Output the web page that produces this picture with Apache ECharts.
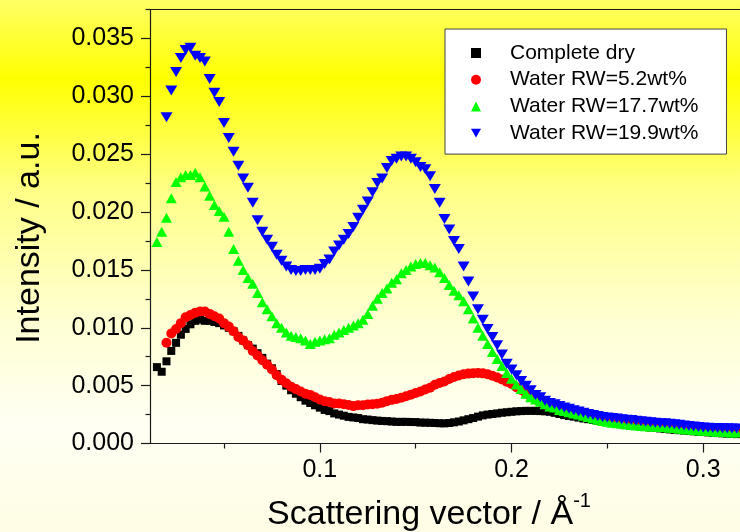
<!DOCTYPE html>
<html><head><meta charset="utf-8">
<script src="https://cdn.jsdelivr.net/npm/echarts@6/dist/echarts.min.js"></script>
<style>html,body{margin:0;padding:0;background:#fff;}#c{width:740px;height:532px;}</style>
</head><body><div id="c"></div>
<script>
// Scattering vector grid (Å^-1)
const q = [
0.0150,0.0175,0.0200,0.0225,0.0250,0.0275,0.0300,0.0325,0.0350,0.0375,
0.0400,0.0425,0.0450,0.0475,0.0500,0.0525,0.0550,0.0575,0.0600,0.0625,
0.0650,0.0675,0.0700,0.0725,0.0750,0.0775,0.0800,0.0825,0.0850,0.0875,
0.0900,0.0925,0.0950,0.0975,0.1000,0.1025,0.1050,0.1075,0.1100,0.1125,
0.1150,0.1175,0.1200,0.1225,0.1250,0.1275,0.1300,0.1325,0.1350,0.1375,
0.1400,0.1425,0.1450,0.1475,0.1500,0.1525,0.1550,0.1575,0.1600,0.1625,
0.1650,0.1675,0.1700,0.1725,0.1750,0.1775,0.1800,0.1825,0.1850,0.1875,
0.1900,0.1925,0.1950,0.1975,0.2000,0.2025,0.2050,0.2075,0.2100,0.2125,
0.2150,0.2175,0.2200,0.2225,0.2250,0.2275,0.2300,0.2325,0.2350,0.2375,
0.2400,0.2425,0.2450,0.2475,0.2500,0.2525,0.2550,0.2575,0.2600,0.2625,
0.2650,0.2675,0.2700,0.2725,0.2750,0.2775,0.2800,0.2825,0.2850,0.2875,
0.2900,0.2925,0.2950,0.2975,0.3000,0.3025,0.3050,0.3075,0.3100,0.3125,
0.3150,0.3175,0.3200];

const completeDry = [
0.0066,0.0062,0.0071,0.0080,0.0087,0.0094,0.0099,0.0103,0.0106,0.0107,
0.0106,0.0106,0.0105,0.0104,0.0102,0.0100,0.0097,0.0093,0.0089,0.0085,
0.0082,0.0078,0.0074,0.0069,0.0065,0.0060,0.0054,0.0050,0.0046,0.0043,
0.0040,0.0037,0.0035,0.0033,0.0031,0.0029,0.0028,0.0026,0.0025,0.0024,
0.0023,0.00225,0.0022,0.0021,0.00207,0.00202,0.00198,0.00195,0.00193,0.0019,
0.00187,0.00187,0.00187,0.00186,0.00185,0.00181,0.0018,0.00179,0.00177,0.00175,
0.00174,0.00177,0.00183,0.0019,0.0020,0.0021,0.0022,0.00232,0.00243,0.0025,
0.00255,0.0026,0.00266,0.0027,0.00274,0.00278,0.0028,0.00282,0.00282,0.00282,
0.0028,0.00278,0.00274,0.00265,0.00255,0.00245,0.00238,0.00232,0.00224,0.00216,
0.0021,0.00203,0.00197,0.0019,0.00184,0.00178,0.00173,0.00168,0.00162,0.00157,
0.00152,0.00147,0.00142,0.00138,0.00134,0.0013,0.00126,0.00122,0.00118,0.00115,
0.00112,0.00108,0.00105,0.00102,0.00099,0.00096,0.00093,0.0009,0.00088,0.00085,
0.00083,0.00081,0.00079];

const water52 = [
null,null,0.0087,0.0095,0.0099,0.0104,0.0109,0.0111,0.0113,0.0114,
0.0114,0.0112,0.0110,0.0108,0.0104,0.0101,0.0097,0.0092,0.0089,0.0085,
0.0080,0.0076,0.0072,0.0068,0.0064,0.0059,0.0055,0.0052,0.0049,0.0047,
0.0045,0.0043,0.0042,0.0040,0.0038,0.00365,0.00358,0.00346,0.00346,0.0034,
0.00332,0.00323,0.0033,0.00331,0.00338,0.0034,0.00344,0.00352,0.00366,0.00377,
0.00384,0.00396,0.00409,0.00422,0.00437,0.0045,0.00466,0.00482,0.00507,0.00522,
0.00536,0.00558,0.00575,0.00588,0.00599,0.00604,0.00607,0.0061,0.00606,0.00598,
0.00586,0.0057,0.00553,0.00533,0.00514,0.00486,0.00462,0.00431,0.00405,0.0038,
0.00358,0.00338,0.0032,0.00312,0.00302,0.00292,0.00282,0.00275,0.00266,0.00258,
0.0025,0.0023,0.0022,0.00212,0.00205,0.002,0.00195,0.0019,0.00185,0.0018,
0.00175,0.0017,0.00166,0.00162,0.00159,0.00156,0.00154,0.00151,0.00147,0.00143,
0.00139,0.00135,0.00131,0.00127,0.00124,0.00121,0.00118,0.00116,0.00114,0.00112,
0.0011,0.00109,0.00108];

const water177 = [
0.0174,0.0183,0.0195,0.0212,0.0226,0.0230,0.0232,0.0232,0.0234,0.0230,
0.0222,0.0214,0.0206,0.0201,0.0196,0.0183,0.0168,0.0158,0.0150,0.0143,
0.0138,0.0130,0.0122,0.0116,0.0110,0.0104,0.0100,0.0096,0.0093,0.0092,
0.0091,0.0089,0.0086,0.0088,0.0089,0.0090,0.0091,0.0094,0.0096,0.0098,
0.0100,0.0102,0.0104,0.0107,0.0112,0.0119,0.0125,0.0130,0.0134,0.0139,
0.0142,0.0147,0.0150,0.0153,0.0155,0.0156,0.0156,0.0154,0.0152,0.0148,
0.0143,0.0137,0.0132,0.0128,0.0123,0.0116,0.0108,0.0100,0.0093,0.0086,
0.0079,0.0073,0.0067,0.0061,0.0056,0.0051,0.0047,0.0043,0.0040,0.0038,
0.0036,0.0034,0.0032,0.0031,0.0029,0.0028,0.0027,0.0026,0.0025,0.0024,
0.00228,0.00217,0.00205,0.00195,0.00187,0.0018,0.00175,0.0017,0.00165,0.0016,
0.00156,0.00152,0.00149,0.00146,0.00144,0.00142,0.0014,0.00137,0.00133,0.00128,
0.00124,0.0012,0.00116,0.00113,0.0011,0.00107,0.00104,0.00102,0.001,0.00098,
0.00096,0.00095,0.00094];

const water199 = [
null,null,0.0282,0.0305,0.0321,0.0333,0.0340,0.0342,0.0335,0.0333,
0.0330,0.0315,0.0303,0.0295,0.0277,0.0264,0.0252,0.0240,0.0229,0.0221,
0.0208,0.0193,0.0183,0.0176,0.0170,0.0163,0.0158,0.0153,0.0150,0.0149,
0.0149,0.0150,0.0150,0.0150,0.0151,0.0155,0.0159,0.0166,0.0171,0.0176,
0.0181,0.0187,0.0195,0.0202,0.0209,0.0217,0.0225,0.0229,0.0238,0.0244,
0.0246,0.0248,0.0248,0.0246,0.0243,0.0239,0.0237,0.0231,0.0220,0.0208,
0.0194,0.0185,0.0175,0.0168,0.0153,0.0140,0.0127,0.0116,0.0107,0.0099,
0.0092,0.0085,0.0077,0.0069,0.0064,0.0059,0.0054,0.0050,0.0046,0.0042,
0.0040,0.0037,0.0035,0.0034,0.00325,0.0031,0.0030,0.00287,0.00276,0.00265,
0.00255,0.00246,0.00238,0.0023,0.00225,0.0022,0.00215,0.0021,0.00206,0.00202,
0.00197,0.00192,0.00187,0.00183,0.00179,0.00176,0.00174,0.00171,0.00166,0.00161,
0.00156,0.00151,0.00146,0.00142,0.00139,0.00137,0.00135,0.00133,0.00132,0.00131,
0.0013,0.00129,0.00128];

const seriesNames = ['Complete dry', 'Water RW=5.2wt%', 'Water RW=17.7wt%', 'Water RW=19.9wt%'];
const xMajorTicks = [0.1, 0.2, 0.3];
const xMinorTicks = [0.05, 0.15, 0.25];
const yMajorTicks = [0, 0.005, 0.01, 0.015, 0.02, 0.025, 0.03, 0.035];
const yMinorTicks = [0.0025, 0.0075, 0.0125, 0.0175, 0.0225, 0.0275, 0.0325, 0.0375];

const FONT = "'Liberation Sans', Arial, sans-serif";
const AX = '#1a1a1a';
const X_MIN = 0.0114, X_MAX = 0.3192, Y_MIN = 0, Y_MAX = 0.0375;
const INV_TRI = 'path://M0,0L10,0L5,8.66Z';

function pts(arr) { return q.map((x, i) => [x, arr[i]]).filter(p => p[1] != null); }

const chart = echarts.init(document.getElementById('c'), null, {renderer: 'canvas'});
const baseX = {type: 'value', min: X_MIN, max: X_MAX, splitLine: {show: false}, gridIndex: 0};
const baseY = {type: 'value', min: Y_MIN, max: Y_MAX, splitLine: {show: false}, gridIndex: 0};

chart.setOption({
  animation: false,
  backgroundColor: {
    type: 'linear', x: 0, y: 0, x2: 0, y2: 1,
    colorStops: [
      {offset: 0, color: '#FFFF66'},
      {offset: 0.147, color: '#FFFF00'},
      {offset: 0.36, color: '#FFFF88'},
      {offset: 0.6, color: '#FFFFD2'},
      {offset: 0.8, color: '#FFFFF4'},
      {offset: 1, color: '#FFFDE4'}
    ]
  },
  textStyle: {fontFamily: FONT},
  grid: {left: 150, right: 0, top: 9.5, bottom: 88.5, outerBoundsMode: 'none', containLabel: false},
  legend: {
    orient: 'vertical', left: 445, top: 29,
    itemWidth: 10, itemHeight: 10, itemGap: 4.7,
    padding: [13, 28, 10, 26],
    backgroundColor: '#FFFFFF', borderColor: '#444', borderWidth: 1, borderRadius: 0,
    selectedMode: false,
    itemStyle: {opacity: 1},
    textStyle: {fontSize: 21, color: '#000', fontFamily: FONT, lineHeight: 22, padding: [0, 0, 0, 24]},
    data: [
      {name: seriesNames[0], icon: 'rect'},
      {name: seriesNames[1], icon: 'circle'},
      {name: seriesNames[2], icon: 'triangle'},
      {name: seriesNames[3], icon: INV_TRI}
    ]
  },
  xAxis: [
    Object.assign({}, baseX, {
      position: 'bottom',
      axisLine: {show: true, onZero: false, lineStyle: {color: AX, width: 1.2}},
      axisTick: {show: true, length: 9, customValues: xMajorTicks, lineStyle: {color: AX, width: 1.2}},
      axisLabel: {show: true, customValues: xMajorTicks, formatter: v => v.toFixed(1), fontSize: 25, color: '#000', margin: 14, fontFamily: FONT},
      name: '{a|Scattering vector / Å}{b|-1}',
      nameLocation: 'middle', nameGap: 48,
      nameTextStyle: {
        padding: [0, 32, 0, 0],
        rich: {
          a: {fontSize: 34, lineHeight: 46, color: '#000', fontFamily: FONT},
          b: {fontSize: 20, lineHeight: 20, verticalAlign: 'top', color: '#000', fontFamily: FONT}
        }
      }
    }),
    Object.assign({}, baseX, {
      position: 'bottom',
      axisLine: {show: false},
      axisTick: {show: true, length: 5, customValues: xMinorTicks, lineStyle: {color: AX, width: 1.2}},
      axisLabel: {show: false}
    }),
    Object.assign({}, baseX, {
      position: 'top',
      axisLine: {show: true, onZero: false, lineStyle: {color: AX, width: 1.2}},
      axisTick: {show: false},
      axisLabel: {show: false}
    })
  ],
  yAxis: [
    Object.assign({}, baseY, {
      position: 'left',
      axisLine: {show: true, onZero: false, lineStyle: {color: AX, width: 1.2}},
      axisTick: {show: true, length: 9, customValues: yMajorTicks, lineStyle: {color: AX, width: 1.2}},
      axisLabel: {show: true, customValues: yMajorTicks, formatter: v => v.toFixed(3), fontSize: 25, color: '#000', margin: 16, fontFamily: FONT},
      name: 'Intensity / a.u.',
      nameLocation: 'middle', nameRotate: 90, nameGap: 103,
      nameTextStyle: {fontSize: 34, color: '#000', fontFamily: FONT, padding: [0, 23, 0, 0]}
    }),
    Object.assign({}, baseY, {
      position: 'left',
      axisLine: {show: false},
      axisTick: {show: true, length: 4.5, customValues: yMinorTicks, lineStyle: {color: AX, width: 1.2}},
      axisLabel: {show: false}
    })
  ],
  series: [
    {name: seriesNames[0], type: 'scatter', xAxisIndex: 0, yAxisIndex: 0, symbol: 'rect', symbolSize: 8,
     itemStyle: {color: '#000000', opacity: 1}, data: pts(completeDry)},
    {name: seriesNames[1], type: 'scatter', xAxisIndex: 0, yAxisIndex: 0, symbol: 'circle', symbolSize: 10,
     itemStyle: {color: '#FF0000', opacity: 1}, data: pts(water52)},
    {name: seriesNames[2], type: 'scatter', xAxisIndex: 0, yAxisIndex: 0, symbol: 'triangle', symbolSize: [11, 10],
     itemStyle: {color: '#00FF00', opacity: 1}, data: pts(water177)},
    {name: seriesNames[3], type: 'scatter', xAxisIndex: 0, yAxisIndex: 0, symbol: INV_TRI, symbolSize: [12, 10],
     itemStyle: {color: '#0000FF', opacity: 1}, data: pts(water199)}
  ]
});
</script>
</body></html>
